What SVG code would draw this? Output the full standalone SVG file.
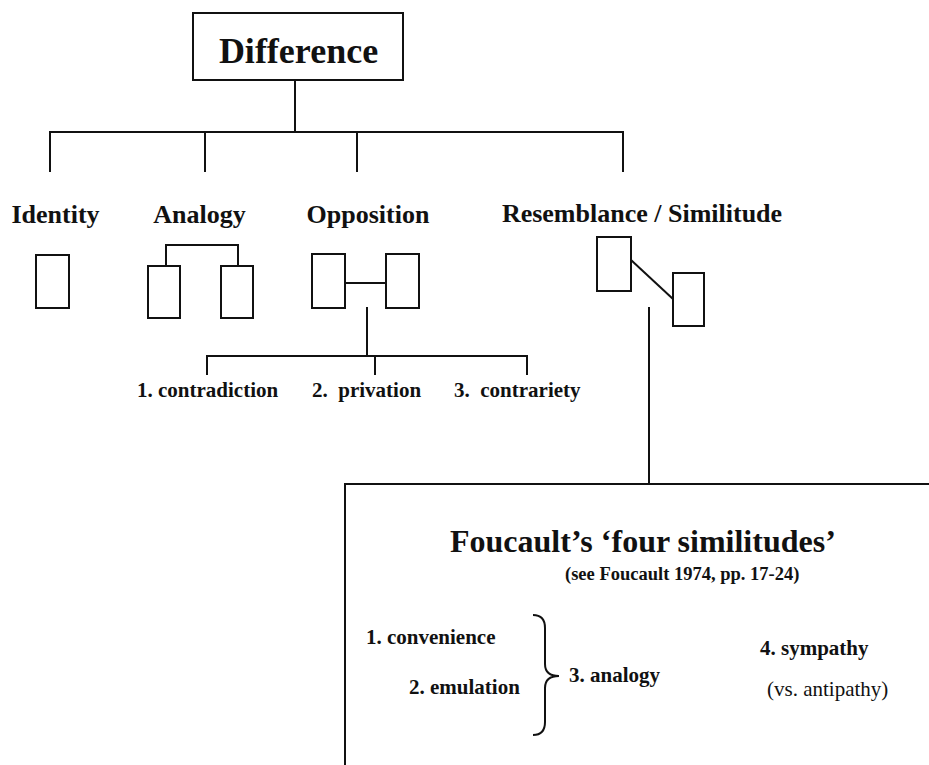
<svg xmlns="http://www.w3.org/2000/svg" width="929" height="765" viewBox="0 0 929 765">
  <style>
    .ln { fill: none; stroke: #111; stroke-width: 2; }
    .bx { fill: #fff; stroke: #111; stroke-width: 2; }
    text { font-family: "Liberation Serif", "Times New Roman", serif; fill: #111; }
    .b { font-weight: bold; }
    .lvl { font-size: 26px; font-weight: bold; text-anchor: middle; }
    .sub { font-size: 21px; font-weight: bold; white-space: pre; }
    .item { font-size: 21px; }
  </style>
  <rect width="929" height="765" fill="#fff"/>

  <!-- connectors -->
  <g id="connectors" class="ln">
    <path d="M295,80 V132"/>
    <path d="M50,172 V132 H623 V172"/>
    <path d="M205,132 V172"/>
    <path d="M357,132 V172"/>
    <path d="M367,307 V356"/>
    <path d="M207,375 V356 H527 V375"/>
    <path d="M375,356 V375"/>
    <path d="M649,307 V484"/>
  </g>

  <g id="difference">
    <rect class="bx" x="193" y="13" width="210" height="67"/>
    <text class="b" x="298.5" y="63" font-size="36" text-anchor="middle">Difference</text>
  </g>

  <g id="identity">
    <text class="lvl" x="55.5" y="223">Identity</text>
    <rect class="bx" x="36" y="255" width="33" height="53"/>
  </g>

  <g id="analogy">
    <text class="lvl" x="199.5" y="223">Analogy</text>
    <path class="ln" d="M166,266 V245 H238 V266"/>
    <rect class="bx" x="148" y="266" width="32" height="52"/>
    <rect class="bx" x="221" y="266" width="32" height="52"/>
  </g>

  <g id="opposition">
    <text class="lvl" x="368" y="223">Opposition</text>
    <path class="ln" d="M345,283 H386"/>
    <rect class="bx" x="312" y="254" width="33" height="54"/>
    <rect class="bx" x="386" y="254" width="33" height="54"/>
  </g>

  <g id="resemblance">
    <text class="lvl" x="642" y="222">Resemblance / Similitude</text>
    <path class="ln" d="M631,260 L673,299"/>
    <rect class="bx" x="597" y="237" width="34" height="54"/>
    <rect class="bx" x="673" y="273" width="31" height="53"/>
  </g>

  <g id="contradiction"><text class="sub" x="137" y="397">1. contradiction</text></g>
  <g id="privation"><text class="sub" x="312" y="397">2.  privation</text></g>
  <g id="contrariety"><text class="sub" x="454" y="397">3.  contrariety</text></g>

  <g id="four-similitudes">
    <rect class="bx" x="345" y="484" width="600" height="300"/>
    <text class="b" x="450" y="552" font-size="32">Foucault’s ‘four similitudes’</text>
    <text class="b" x="565" y="580" font-size="18.5">(see Foucault 1974, pp. 17-24)</text>
    <text class="item b" x="366" y="644">1. convenience</text>
    <text class="item b" x="409" y="694">2. emulation</text>
    <path class="ln" d="M533,615 Q545,615 545,628 L545,664 Q545,676 559,676 Q545,676 545,688 L545,722 Q545,735 533,735"/>
    <text class="item b" x="569" y="682">3. analogy</text>
    <text class="item b" x="760" y="655">4. sympathy</text>
    <text class="item" x="767" y="696">(vs. antipathy)</text>
  </g>
</svg>
